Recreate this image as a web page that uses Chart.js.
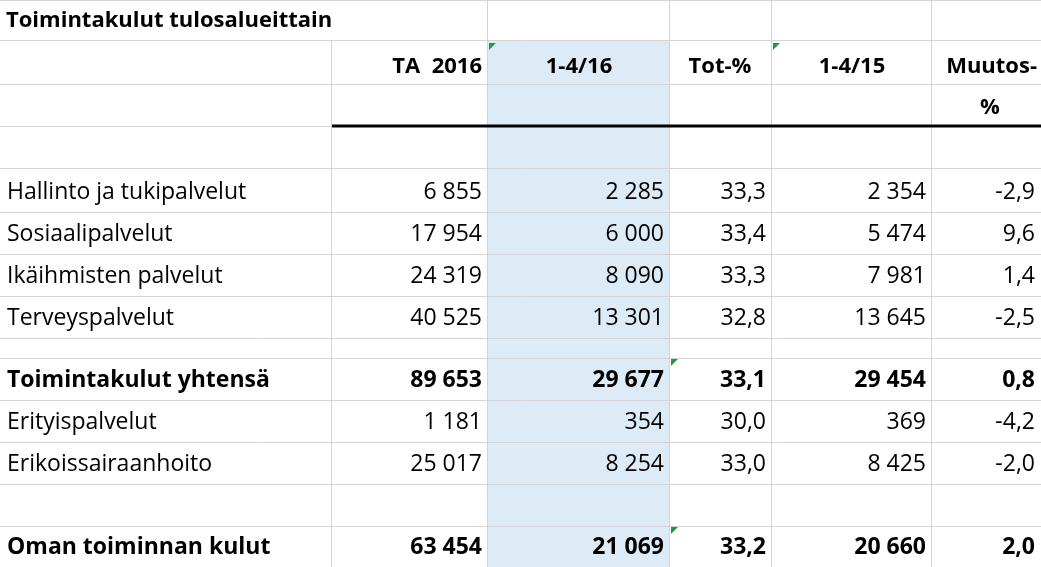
<!DOCTYPE html>
<html><head><meta charset="utf-8">
<script src="https://cdn.jsdelivr.net/npm/chart.js@4"></script>
<style>html,body{margin:0;padding:0;background:#fff}#c{display:block}</style>
</head><body>
<canvas id="c" width="1041" height="567"></canvas>
<script>
const title = "Toimintakulut tulosalueittain";
const headers = ["TA  2016", "1-4/16", "Tot-%", "1-4/15", "Muutos-"];
const categories = ["Hallinto ja tukipalvelut","Sosiaalipalvelut","Ikäihmisten palvelut","Terveyspalvelut","Toimintakulut yhtensä","Erityispalvelut","Erikoissairaanhoito","Oman toiminnan kulut"];
const ta2016 = ["6 855","17 954","24 319","40 525","89 653","1 181","25 017","63 454"];
const jan_apr16 = ["2 285","6 000","8 090","13 301","29 677","354","8 254","21 069"];
const totPct = ["33,3","33,4","33,3","32,8","33,1","30,0","33,0","33,2"];
const jan_apr15 = ["2 354","5 474","7 981","13 645","29 454","369","8 425","20 660"];
const changePct = ["-2,9","9,6","1,4","-2,5","0,8","-4,2","-2,0","2,0"];
const boldRows = [false,false,false,false,true,false,false,true];

// layout (not data)
const colEdges = [0,332,488,670,772,932,1041];
const rowEdges = [0,40,84,126,168,212,254,296,338,358,400,442,484,526,567];
const dataRowIndex = [4,5,6,7,9,10,11,13];

const tablePlugin = {
  id:'table',
  beforeDraw(chart){
    const {ctx, scales:{x,y}} = chart;
    const X=v=>x.getPixelForValue(v), Y=v=>y.getPixelForValue(v);
    ctx.save();
    ctx.fillStyle='#fff'; ctx.fillRect(0,0,chart.width,chart.height);
    ctx.fillStyle='#ddebf7';
    ctx.fillRect(X(colEdges[2]),Y(rowEdges[1]),X(colEdges[3])-X(colEdges[2]),Y(567)-Y(rowEdges[1]));
    ctx.strokeStyle='#d4d4d4'; ctx.lineWidth=1;
    rowEdges.forEach(r=>{ctx.beginPath();ctx.moveTo(0,Y(r)+0.5);ctx.lineTo(chart.width,Y(r)+0.5);ctx.stroke();});
    colEdges.slice(1,-1).forEach(c=>{
      const top = c===332? rowEdges[1]:0;
      ctx.beginPath();ctx.moveTo(X(c)-0.5,Y(top));ctx.lineTo(X(c)-0.5,Y(567));ctx.stroke();});
    ctx.strokeStyle='#000'; ctx.lineWidth=3;
    ctx.beginPath();ctx.moveTo(X(332),Y(126));ctx.lineTo(X(1041),Y(126));ctx.stroke();
    ctx.fillStyle='#1e9c3c';
    [[488,42],[772,42],[670,358],[670,526]].forEach(([a,b])=>{
      ctx.beginPath();ctx.moveTo(X(a)+1,Y(b)+1);ctx.lineTo(X(a)+8,Y(b)+1);ctx.lineTo(X(a)+1,Y(b)+8);ctx.closePath();ctx.fill();});
    ctx.fillStyle='#000'; ctx.textBaseline='middle';
    const F=(b,s)=>(b?'bold ':'')+s+'px "Open Sans", Lato, sans-serif';
    ctx.font=F(true,22); ctx.textAlign='left';
    ctx.fillText(title,X(6),Y(21));
    ctx.font=F(true,22);
    const hy=Y(67);
    ctx.textAlign='right'; ctx.fillText(headers[0],X(482),hy);
    ctx.textAlign='center'; ctx.fillText(headers[1],X(579),hy);
    ctx.fillText(headers[2],X(720),hy); ctx.fillText(headers[3],X(852),hy);
    ctx.textAlign='right'; ctx.fillText(headers[4],X(1037),hy);
    ctx.textAlign='center'; ctx.fillText('%',X(990),Y(108));
    categories.forEach((cat,i)=>{
      const ri=dataRowIndex[i]; const yy=Y(rowEdges[ri+1]-20);
      ctx.font=F(boldRows[i],23);
      ctx.textAlign='left'; ctx.fillText(cat,X(7),yy);
      ctx.textAlign='right';
      [ta2016,jan_apr16,totPct,jan_apr15,changePct].forEach((arr,k)=>{
        ctx.fillText(arr[i],X(colEdges[k+2])-6,yy);});
    });
    ctx.restore();
  }
};

new Chart(document.getElementById('c'),{
  type:'scatter',
  data:{datasets:[{data:[],showLine:false}]},
  options:{responsive:false,animation:false,
    layout:{padding:0},
    plugins:{legend:{display:false},tooltip:{enabled:false}},
    scales:{x:{type:'linear',min:0,max:1041,display:false},
            y:{type:'linear',min:0,max:567,reverse:true,display:false}}},
  plugins:[tablePlugin]
});
</script>
</body></html>
